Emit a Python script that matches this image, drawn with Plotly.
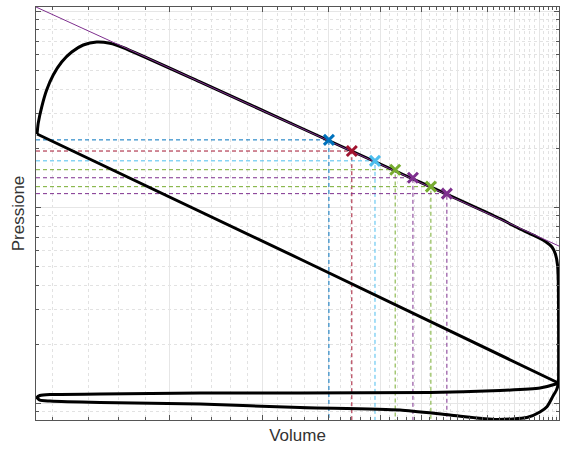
import plotly.graph_objects as go

# Axis limits (normalised volume and pressure, both on log scales)
V_LIM = [1.115, 10.91]
P_LIM = [0.0819, 10.48]

# Compression stroke: BDC -> TDC (straight polytrope in log-log)
comp_V = [10.88, 3.526, 1.120]
comp_P = [0.1265, 0.543, 2.358]

# Combustion rise, expansion along the polytrope and blow-down at BDC
exp_V = [1.120, 1.126, 1.143, 1.168, 1.202, 1.247, 1.303, 1.370, 1.453, 1.539, 1.629,
         2.280, 3.526, 5.452, 8.432, 9.201, 9.867, 10.31, 10.58, 10.74, 10.84, 10.88,
         10.89, 10.89, 10.88]
exp_P = [2.358, 2.683, 3.237, 3.954, 4.716, 5.494, 6.177, 6.707, 6.948, 6.843, 6.513,
         4.347, 2.545, 1.491, 0.8716, 0.7722, 0.7069, 0.6631, 0.6250, 0.5757, 0.5058, 0.3999,
         0.2357, 0.1341, 0.1265]

# Gas exchange loop: exhaust stroke (leftwards) then intake stroke (rightwards)
gas_V = [10.88, 10.76, 10.04, 8.432, 6.215, 3.526, 2.280, 1.474, 1.185, 1.134, 1.120,
         1.134, 1.185, 1.474, 2.280, 3.526, 5.452, 6.781, 8.322, 9.486, 10.04, 10.35,
         10.63, 10.79, 10.88]
gas_P = [0.1265, 0.1250, 0.1193, 0.1158, 0.1131, 0.1125, 0.1125, 0.1111, 0.1105, 0.1092, 0.1067,
         0.1035, 0.1024, 0.1006, 0.0988, 0.0948, 0.0921, 0.0868, 0.0824, 0.0843, 0.0900, 0.0957,
         0.1086, 0.1165, 0.1265]

# Reference polytrope, end points
poly_V = [1.115, 10.91]
poly_P = [10.48, 0.632]

# Sampled states on the expansion line
mark_V = [4.00, 4.42, 4.89, 5.34, 5.77, 6.24, 6.69]
mark_P = [2.20, 1.93, 1.72, 1.55, 1.41, 1.27, 1.17]
mark_colors = ["#0072BD", "#A2142F", "#4DBEEE", "#77AC30", "#7E2F8E", "#77AC30", "#7E2F8E"]

# Grid / tick positions
x_major = [2, 3, 4, 5, 6, 7, 8, 9, 10]
x_minor = [round(1.2 + 0.2 * i, 1) for i in range(49)]
x_minor = [v for v in x_minor if abs(v - round(v)) > 1e-6]
y_major = [0.1, 1, 10]
y_minor = [0.09] + [round(0.1 * k, 1) for k in range(2, 10)] + list(range(2, 10))

fig = go.Figure()

# Projection lines from each sampled state to the axes
for v, p, c in zip(mark_V, mark_P, mark_colors):
    fig.add_trace(go.Scatter(
        x=[V_LIM[0], v, v], y=[p, p, P_LIM[0]], mode="lines",
        line=dict(color=c, width=1, dash="4px,3px"), hoverinfo="skip"))

# Cycle
fig.add_trace(go.Scatter(x=comp_V, y=comp_P, mode="lines",
                         line=dict(color="black", width=3)))
fig.add_trace(go.Scatter(x=exp_V, y=exp_P, mode="lines",
                         line=dict(color="black", width=3, shape="spline", smoothing=0.6)))
fig.add_trace(go.Scatter(x=gas_V, y=gas_P, mode="lines",
                         line=dict(color="black", width=3, shape="spline", smoothing=0.6)))

# Polytrope
fig.add_trace(go.Scatter(x=poly_V, y=poly_P, mode="lines",
                         line=dict(color="#7E2F8E", width=1)))

# Markers
fig.add_trace(go.Scatter(
    x=mark_V, y=mark_P, mode="markers",
    marker=dict(symbol="x-thin", size=10, color=mark_colors,
                line=dict(color=mark_colors, width=3))))

axis_common = dict(
    type="log", showticklabels=False, ticks="inside", ticklen=5, tickwidth=1,
    tickcolor="#555555", showline=True, linecolor="#555555", linewidth=1,
    mirror="ticks", showgrid=True, gridcolor="#e6e6e6", gridwidth=1, zeroline=False,
    title_font=dict(family="Liberation Sans, Arial, sans-serif", size=17, color="#333333"),
)

fig.update_xaxes(
    **axis_common, range=[0.04727, 1.03782], tickmode="array", tickvals=x_major,
    minor=dict(tickmode="array", tickvals=x_minor, ticks="inside", ticklen=3,
               tickcolor="#555555", showgrid=True, gridcolor="#e2e2e2", griddash="dot"),
    title=dict(text="Volume", standoff=9),
)
fig.update_yaxes(
    **axis_common, range=[-1.0867, 1.0204], tickmode="array", tickvals=y_major,
    minor=dict(tickmode="array", tickvals=y_minor, ticks="inside", ticklen=3,
               tickcolor="#555555", showgrid=True, gridcolor="#e2e2e2", griddash="dot"),
    title=dict(text="Pressione", standoff=6),
)

fig.update_layout(
    width=561, height=450, showlegend=False,
    margin=dict(l=36, r=2, t=7, b=30),
    paper_bgcolor="white", plot_bgcolor="white",
)

fig.write_html("out.html")
